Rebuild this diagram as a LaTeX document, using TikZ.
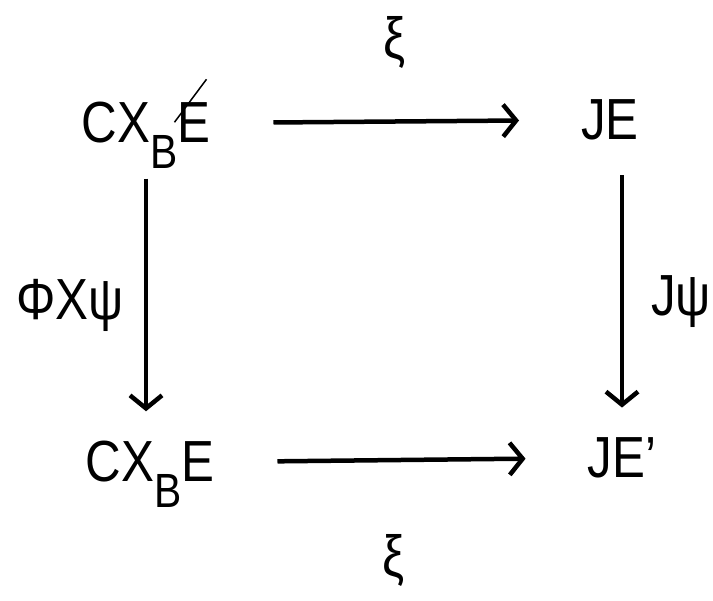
\documentclass[tikz,border=0pt]{standalone}
\usepackage{fontspec}
\setmainfont{Liberation Sans}[FakeStretch=0.85]
\usetikzlibrary{arrows.meta}

% lowered B of the fibre product
\newcommand{\lowB}{\raisebox{-26pt}[0pt][0pt]{\fontsize{48}{48}\selectfont B}}

\begin{document}
\begin{tikzpicture}[x=1pt, y=-1pt,
    obj/.style={inner sep=0pt, font=\fontsize{58}{60}\selectfont},
    map/.style={inner sep=0pt, font=\fontsize{58}{60}\selectfont},
    arr/.style={line width=4.5pt, -{Straight Barb[length=13pt, width=32pt, line width=4.5pt]}},
    hor/.style={arr, shorten <=63pt, shorten >=62pt},
    ver/.style={arr, shorten <=35pt, shorten >=30pt}]
    \useasboundingbox (0,0) rectangle (713,601);
    % objects
    \node[obj] (tl) at (146,123) {CX\lowB E};
    \node[obj] (tr) at (610,120) {JE};
    \node[obj] (bl) at (150,462) {CX\lowB E};
    \node[obj] (br) at (622,458) {JE'};
    % stray stroke over the E
    \draw[line width=1.5pt] ([shift={(-4,-23)}]tl.north east) -- ([shift={(-36,20)}]tl.north east);
    % maps
    \draw[hor] (tl.east) -- (tr.west);
    \draw[hor] (bl.east) -- (br.west);
    \draw[ver] (tl.south) -- (tl.south |- bl.north);
    \draw[ver] (tr.south -| br) -- (br.north);
    % labels
    \node[map] (xitop) at (395,42) {ξ};
    \node[map] (xibot) at (394,560) {ξ};
    \node[map] (phipsi) at (70,305) {ΦXψ};
    \node[map] (jpsi) at (681,302) {Jψ};
\end{tikzpicture}
\end{document}
